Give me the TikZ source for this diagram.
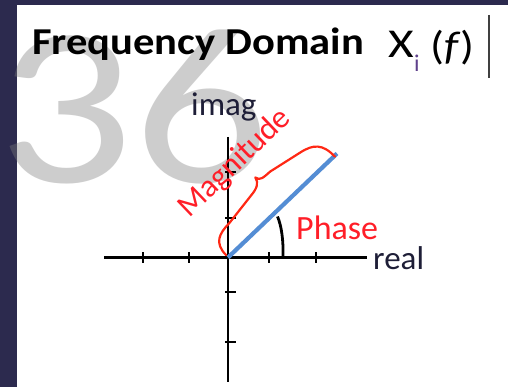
\documentclass[tikz,border=0pt]{standalone}
\usepackage{fontspec}
\setmainfont{Carlito}
\definecolor{bgdark}{RGB}{44,42,78}
\definecolor{numgray}{RGB}{125,125,125}
\definecolor{vecblue}{RGB}{84,141,212}
\definecolor{bracered}{RGB}{255,40,20}
\definecolor{labred}{RGB}{255,30,40}
\definecolor{axtext}{RGB}{30,30,55}
\definecolor{subpurple}{RGB}{95,65,140}
\definecolor{bargray}{RGB}{64,64,64}
\tikzset{
  axisline/.style={line width=2.6pt, black},
  tickmark/.style={line width=2.2pt, black},
  lbl/.style={inner sep=0pt, anchor=base west},
}
\begin{document}
\begin{tikzpicture}[x=1pt,y=-1pt]
\useasboundingbox (0,0) rectangle (508,387);
\fill[bgdark] (0,0) rectangle (508,387);
\fill[white] (17,5) rectangle (508,387);
% big page number
\node[lbl, text=numgray, opacity=0.38, font=\fontsize{226}{226}\selectfont] (num) at (-3,183) {\scalebox{1.19}[1]{36}};
% title
\node[lbl, font=\bfseries\fontsize{38}{38}\selectfont] (title) at (32,55) {\scalebox{1.12}[1]{Frequency Domain}};
\node[lbl, font=\fontsize{41}{41}\selectfont] (X) at (388,58) {\scalebox{1.2}[1]{X}};
\node[lbl, text=subpurple, font=\fontsize{24}{24}\selectfont] (sub) at (414,72) {i};
\node[lbl, font=\fontsize{40}{40}\selectfont] (fx) at (430,60) {\scalebox{1.15}[1]{(\textit{f})}};
\coordinate (bt) at (489,15);
\coordinate (bb) at (489,78);
\draw[bargray, line width=2.4pt] (bt) -- (bb);
% axes
\coordinate (O) at (228,257.5);
\coordinate (xl) at (104,257.5);
\coordinate (xr) at (367,257.5);
\coordinate (yt) at (228,137);
\coordinate (yb) at (228,382);
\draw[axisline] (xl) -- (xr);
\draw[axisline] (yt) -- (yb);
\foreach \tx in {143,189,269,316} \draw[tickmark] (\tx,252) -- (\tx,263);
\foreach \ty in {172,218,292,342} \draw[tickmark] (225,\ty) -- (236,\ty);
% vector
\coordinate (tipv) at (337,153.5);
\draw[vecblue, line width=4.2pt] (O) -- (tipv);
% phase arc
\coordinate (a0) at (283,257.5);
\coordinate (a1) at (277.5,216.5);
\draw[black, line width=2.8pt] (a0) .. controls (283.5,240) and (281.5,226) .. (a1);
% labels
\node[lbl, text=labred, font=\fontsize{34}{34}\selectfont] (phase) at (296,240) {Phase};
\node[lbl, text=axtext, font=\fontsize{33}{33}\selectfont] (real) at (373,269) {real};
\node[lbl, text=axtext, font=\fontsize{33}{33}\selectfont] (imag) at (191,116) {imag};
% brace and magnitude
\begin{scope}[shift={(228pt,-257.5pt)}, x={(0.7233pt,0.6905pt)}, y={(-0.6905pt,0.7233pt)}]
  \draw[bracered, line width=2.2pt, line join=round, line cap=round]
    (0.3,3) .. controls (0,20) and (10,23.5) .. (25,24) -- (60,29)
    .. controls (69,30) and (74,33) .. (75,39)
    .. controls (76,33) and (81,33.5) .. (90,33) -- (125,26)
    .. controls (140,23) and (147,17) .. (147,-1);
  \node[anchor=base, inner sep=0pt, rotate=43.7, text=labred, font=\fontsize{32}{32}\selectfont] (mag) at (70,55) {Magnitude};
\end{scope}
\end{tikzpicture}
\end{document}
